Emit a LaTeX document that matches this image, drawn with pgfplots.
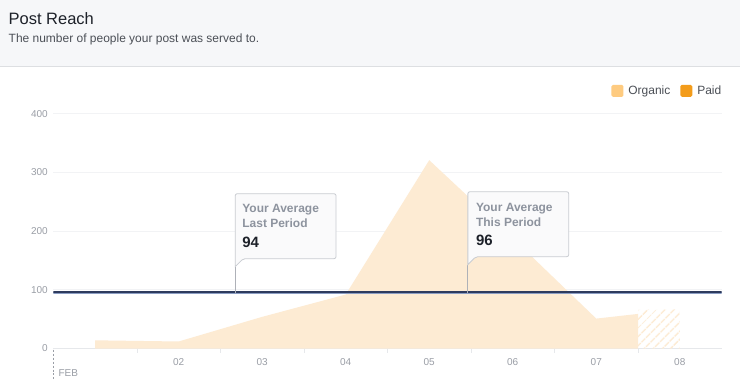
\documentclass[border=0pt]{standalone}
\usepackage{fontspec}
\setmainfont{Liberation Sans}
\usepackage{pgfplots}
\pgfplotsset{compat=1.18}
\usetikzlibrary{patterns.meta}
\definecolor{headerbg}{HTML}{F6F7F9}
\definecolor{headerline}{HTML}{DDDFE2}
\definecolor{textdark}{HTML}{1D2129}
\definecolor{subc}{HTML}{4B4F56}
\definecolor{tickc}{HTML}{9A9EA6}
\definecolor{gridc}{HTML}{F2F3F5}
\definecolor{axisc}{HTML}{E6E8EB}
\definecolor{orgfill}{HTML}{FDEBD3}
\definecolor{orglegend}{HTML}{FECB80}
\definecolor{paidc}{HTML}{F39C1B}
\definecolor{lineA}{HTML}{2E3B5E}
\definecolor{lineB}{HTML}{8B9DC3}
\definecolor{boxfill}{HTML}{FAFAFB}
\definecolor{boxline}{HTML}{C9CCD1}
\definecolor{calloutc}{HTML}{8D939E}
\begin{document}
\begin{tikzpicture}
\fill[white] (0pt,0pt) rectangle (740pt,386pt);
\fill[headerbg] (0pt,319pt) rectangle (740pt,386pt);
\draw[headerline, line width=1pt] (0pt,319pt) -- (740pt,319pt);
\node[anchor=base west, inner sep=0pt, text=textdark, font=\fontsize{16.5}{19}\selectfont] at (8pt,361pt) {Post Reach};
\node[anchor=base west, inner sep=0pt, text=subc, font=\fontsize{12}{14}\selectfont] at (8pt,343pt) {The number of people your post was served to.};
\begin{axis}[
  at={(53pt,37pt)}, anchor=south west,
  scale only axis, width=669pt, height=235pt,
  xmin=0.5, xmax=8.5, ymin=0, ymax=400,
  separate axis lines,
  axis x line*=bottom, axis y line*=left,
  x axis line style={draw=axisc, line width=0.8pt, -},
  y axis line style={draw=none, -},
  tick align=outside, major tick length=4pt,
  xtick={1.5,2.5,...,7.5}, xticklabels={},
  xtick style={draw=axisc, line width=0.8pt},
  extra x ticks={2,3,4,5,6,7,8},
  extra x tick labels={02,03,04,05,06,07,08},
  extra x tick style={major tick length=0pt, xtick style={draw=none}},
  xticklabel style={inner sep=0pt, yshift=-9.5pt, text=tickc, font=\fontsize{10}{12}\selectfont},
  ytick={0,100,200,300,400},
  ytick style={draw=none},
  yticklabel style={inner sep=0pt, xshift=-1.5pt, text=tickc, font=\fontsize{10}{12}\selectfont},
  /pgf/number format/assume math mode=true,
  ymajorgrids, grid style={draw=gridc, line width=0.8pt},
  legend image code/.code={\fill[#1, rounded corners=1.5pt] (0pt,-6pt) rectangle (12pt,6pt);},
  legend columns=2,
  legend style={at={(1,1.098)}, anchor=east, draw=none, fill=none, inner sep=0pt,
    font=\fontsize{12}{14}\selectfont, text=subc,
    nodes={inner sep=0pt},
    /tikz/every odd column/.append style={column sep=5pt},
    /tikz/every even column/.append style={column sep=10pt}},
]
\addlegendimage{fill=orglegend, draw=none}
\addlegendentry{Organic}
\addlegendimage{fill=paidc, draw=none}
\addlegendentry{Paid}
\addplot[fill=orgfill, draw=none, forget plot] coordinates {(1,14) (2,12) (3,54) (4,92) (5,321) (6,188) (7,51) (7.5,59)} \closedcycle;
\addplot[draw=none, pattern={Lines[angle=45,distance=6.5pt,line width=1.6pt]}, pattern color=orgfill, forget plot] coordinates {(7.5,66) (8,67)} \closedcycle;
\addplot[draw=lineB, line width=2pt, forget plot] coordinates {(0.5,94) (8.5,94)};
\addplot[draw=lineA, line width=1.6pt, forget plot] coordinates {(0.5,96) (8.5,96)};
\end{axis}
% FEB marker
\draw[tickc, line width=0.6pt, dash pattern=on 2pt off 2pt] (53pt,36pt) -- (53pt,5pt);
\node[anchor=base west, inner sep=0pt, text=tickc, font=\fontsize{10}{12}\selectfont] at (58pt,9pt) {FEB};
% callout: last period
\draw[tickc!80, line width=0.8pt] (235pt,119pt) -- (235pt,93pt);
\filldraw[fill=boxfill, draw=boxline, line width=0.8pt, rounded corners=2pt]
  (235pt,119pt) -- (235pt,192pt) -- (336pt,192pt) -- (336pt,127pt) -- (243pt,127pt) [sharp corners] -- cycle;
\node[anchor=base west, inner sep=0pt, text=calloutc, font=\fontsize{12}{14}\selectfont\bfseries] at (242pt,173pt) {Your Average};
\node[anchor=base west, inner sep=0pt, text=calloutc, font=\fontsize{12}{14}\selectfont\bfseries] at (242pt,158pt) {Last Period};
\node[anchor=base west, inner sep=0pt, text=textdark, font=\fontsize{15}{17}\selectfont\bfseries] at (242pt,138pt) {94};
% callout: this period
\draw[tickc!80, line width=0.8pt] (468pt,121pt) -- (468pt,93pt);
\filldraw[fill=boxfill, draw=boxline, line width=0.8pt, rounded corners=2pt]
  (468pt,121pt) -- (468pt,194pt) -- (569pt,194pt) -- (569pt,129pt) -- (476pt,129pt) [sharp corners] -- cycle;
\node[anchor=base west, inner sep=0pt, text=calloutc, font=\fontsize{12}{14}\selectfont\bfseries] at (476pt,174pt) {Your Average};
\node[anchor=base west, inner sep=0pt, text=calloutc, font=\fontsize{12}{14}\selectfont\bfseries] at (476pt,159pt) {This Period};
\node[anchor=base west, inner sep=0pt, text=textdark, font=\fontsize{15}{17}\selectfont\bfseries] at (476pt,140pt) {96};
\end{tikzpicture}
\end{document}
